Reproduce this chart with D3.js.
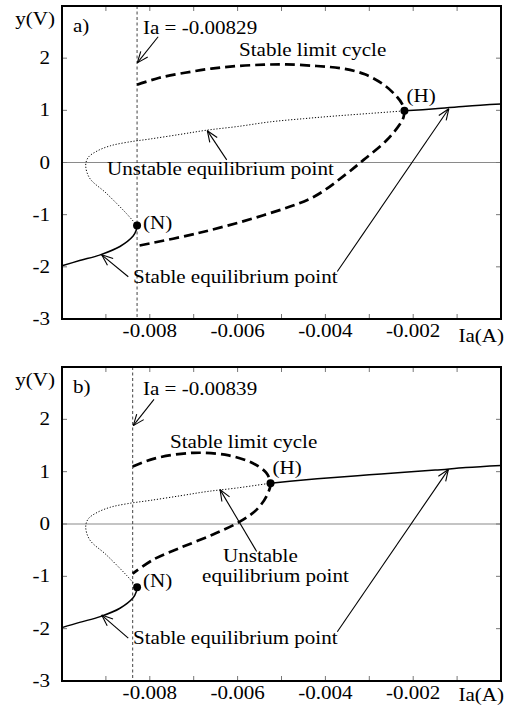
<!DOCTYPE html>
<html>
<head>
<meta charset="utf-8">
<script src="https://cdn.jsdelivr.net/npm/d3@7"></script>
<style>
  body { margin: 0; background: #fff; }
  text { font-family: "Liberation Serif", "Times New Roman", serif; font-size: 18px; fill: #000; }
</style>
</head>
<body>
<div id="chart"></div>
<script>
// equilibrium curve, lower stable branch (up to the fold N)
var eqLowerIa = [-0.0100, -0.0096, -0.00913, -0.00868, -0.00838, -0.00831, -0.00829];
var eqLowerY = [-1.98, -1.88, -1.77, -1.61, -1.41, -1.30, -1.21];

// equilibrium curve from N, round the turn, up to Ia = 0
var eqUpperIa = [-0.00829, -0.00853, -0.00899, -0.00937, -0.00946, -0.0094, -0.0092, -0.0089, -0.0085,
    -0.0080, -0.0073, -0.0067, -0.0060, -0.00525, -0.0045, -0.0038, -0.0030, -0.0022, -0.0015, -0.0008, 0];
var eqUpperY = [-1.21, -0.98, -0.59, -0.30, -0.05, 0.10, 0.22, 0.32, 0.39,
    0.45, 0.54, 0.62, 0.69, 0.78, 0.84, 0.89, 0.94, 0.99, 1.03, 1.08, 1.12];

// Hopf point for each panel (must be one of eqUpperIa)
var hopfIa = [-0.0022, -0.00525];
var iaValues = [-0.00829, -0.00839];
var iaTexts = ["Ia = -0.00829", "Ia = -0.00839"];
var panelLabels = ["a)", "b)"];

// stable limit cycle, panel a (upper branch then lower branch back)
var cycleAIa = [-0.00829, -0.0078, -0.0072, -0.0066, -0.0060, -0.0054, -0.0049, -0.0042, -0.0036, -0.0031,
    -0.00267, -0.00237, -0.00225, -0.0022,
    -0.00222, -0.00229, -0.0026, -0.00313, -0.00351, -0.00427, -0.00541, -0.00693, -0.00829];
var cycleAY = [1.49, 1.62, 1.72, 1.80, 1.85, 1.875, 1.88, 1.85, 1.80, 1.69,
    1.49, 1.26, 1.12, 0.99,
    0.87, 0.75, 0.43, 0.05, -0.21, -0.66, -1.01, -1.36, -1.60];

// stable limit cycle, panel b
var cycleBIa = [-0.00839, -0.0079, -0.0070, -0.0062, -0.00565, -0.00535, -0.00525,
    -0.00533, -0.00556, -0.00594, -0.00656, -0.00732, -0.00792, -0.00839];
var cycleBY = [1.10, 1.25, 1.36, 1.31, 1.16, 0.98, 0.78,
    0.55, 0.28, 0.05, -0.20, -0.46, -0.68, -0.95];

var xTickLabels = [-0.008, -0.006, -0.004, -0.002];
var xTicks = [-0.009, -0.008, -0.007, -0.006, -0.005, -0.004, -0.003, -0.002, -0.001];
var yTicks = [-2, -1, 0, 1, 2];
var yTickLabels = [-3, -2, -1, 0, 1, 2];

// annotations in data units: [text, Ia, y]
var notesA = [
    ["Stable limit cycle", -0.005968, 2.04],
    ["Unstable equilibrium point", -0.008975, -0.24],
    ["Stable equilibrium point", -0.008383, -2.31]
];
var notesB = [
    ["Stable limit cycle", -0.00754, 1.46],
    ["Unstable", -0.006333, -0.717],
    ["equilibrium point", -0.00681, -1.10],
    ["Stable equilibrium point", -0.008383, -2.29]
];
// arrows: [fromIa, fromY, toIa, toY]
var arrowsA = [
    [-0.00781, 2.41, -0.008285, 1.91],
    [-0.006248, 0.05, -0.00669, 0.61],
    [-0.00849, -2.19, -0.009096, -1.77],
    [-0.003729, -2.09, -0.001189, 1.03]
];
var arrowsB = [
    [-0.007904, 2.38, -0.008376, 1.88],
    [-0.005565, -0.525, -0.0064, 0.657],
    [-0.00849, -2.18, -0.009096, -1.74],
    [-0.003729, -2.06, -0.0012, 1.04]
];

var svgWidth = 513;
var svgHeight = 706;
var sx = 1.17; // horizontal stretch of the lettering

var svg = d3.select("#chart")
    .append("svg")
    .attr("width", svgWidth)
    .attr("height", svgHeight);

var xScale = d3.scaleLinear().domain([-0.010, 0]).range([62, 501]);

function addText(g, x, y, str, anchor) {
    return g.append("text")
        .attr("transform", `translate(${x},${y}) scale(${sx},1)`)
        .attr("text-anchor", anchor || "start")
        .text(str);
}

function drawArrow(g, x1, y1, x2, y2) {
    g.append("line")
        .attr("x1", x1).attr("y1", y1).attr("x2", x2).attr("y2", y2)
        .attr("stroke", "#000").attr("stroke-width", 1.1);
    var ang = Math.atan2(y1 - y2, x1 - x2);
    var len = 12, spread = 0.38;
    [ang - spread, ang + spread].forEach(function(a) {
        g.append("line")
            .attr("x1", x2).attr("y1", y2)
            .attr("x2", x2 + len * Math.cos(a)).attr("y2", y2 + len * Math.sin(a))
            .attr("stroke", "#000").attr("stroke-width", 1.1);
    });
}

function drawPanel(p) {
    var top = p.top, bottom = p.bottom;
    var yScale = d3.scaleLinear().domain([-3, 3]).range([bottom, top]);
    var left = xScale.range()[0], right = xScale.range()[1];
    var g = svg.append("g");

    var line = d3.line()
        .x(d => xScale(d[0]))
        .y(d => yScale(d[1]))
        .curve(d3.curveCatmullRom.alpha(0.5));

    // zero line
    g.append("line")
        .attr("x1", left).attr("x2", right)
        .attr("y1", yScale(0)).attr("y2", yScale(0))
        .attr("stroke", "#8a8a8a").attr("stroke-width", 1.2);

    // ticks (inside, on all four sides)
    xTicks.forEach(function(t) {
        g.append("line").attr("x1", xScale(t)).attr("x2", xScale(t))
            .attr("y1", top).attr("y2", top + 5).attr("stroke", "#777");
        g.append("line").attr("x1", xScale(t)).attr("x2", xScale(t))
            .attr("y1", bottom).attr("y2", bottom - 5).attr("stroke", "#777");
    });
    yTicks.forEach(function(t) {
        g.append("line").attr("x1", left).attr("x2", left + 5)
            .attr("y1", yScale(t)).attr("y2", yScale(t)).attr("stroke", "#777");
        g.append("line").attr("x1", right).attr("x2", right - 5)
            .attr("y1", yScale(t)).attr("y2", yScale(t)).attr("stroke", "#777");
    });

    // tick labels
    xTickLabels.forEach(function(t) {
        addText(g, xScale(t), bottom + 18, d3.format(".3f")(t).replace("−", "-"), "middle");
    });
    yTickLabels.forEach(function(t) {
        addText(g, 50, yScale(t) + 6, String(t), "end");
    });
    addText(g, 55, top + 19, "y(V)", "end");
    addText(g, 504, Math.min(bottom + 23, 701), "Ia(A)", "end");

    // vertical Ia line
    g.append("line")
        .attr("x1", xScale(p.ia)).attr("x2", xScale(p.ia))
        .attr("y1", top).attr("y2", bottom)
        .attr("stroke", "#444").attr("stroke-width", 1)
        .attr("stroke-dasharray", "3,2.5");

    // equilibrium curve
    var lower = eqLowerIa.map((v, i) => [v, eqLowerY[i]]);
    var upper = eqUpperIa.map((v, i) => [v, eqUpperY[i]]);
    var hi = eqUpperIa.indexOf(p.hopf);
    var unstable = upper.slice(0, hi + 1);
    var stableUp = upper.slice(hi);

    g.append("path").attr("d", line(lower))
        .attr("fill", "none").attr("stroke", "#000").attr("stroke-width", 1.5);
    g.append("path").attr("d", line(stableUp))
        .attr("fill", "none").attr("stroke", "#000").attr("stroke-width", 1.5);
    g.append("path").attr("d", line(unstable))
        .attr("fill", "none").attr("stroke", "#000").attr("stroke-width", 1)
        .attr("stroke-dasharray", "1.2,1.8");

    // limit cycle
    var cycle = p.cycleIa.map((v, i) => [v, p.cycleY[i]]);
    g.append("path").attr("d", line(cycle))
        .attr("fill", "none").attr("stroke", "#000").attr("stroke-width", 2.7)
        .attr("stroke-dasharray", "10,5");

    // fold (N) and Hopf (H) points
    var nPt = upper[0];
    var hPt = upper[hi];
    g.append("circle").attr("cx", xScale(nPt[0])).attr("cy", yScale(nPt[1])).attr("r", 4);
    g.append("circle").attr("cx", xScale(hPt[0])).attr("cy", yScale(hPt[1])).attr("r", 4);
    addText(g, xScale(nPt[0]) + 6, yScale(nPt[1]) + p.nDy, "(N)");
    addText(g, xScale(hPt[0]) + 2, yScale(hPt[1]) - 9, "(H)");

    // annotations
    p.notes.forEach(function(n) {
        addText(g, xScale(n[1]), yScale(n[2]), n[0]);
    });
    p.arrows.forEach(function(a) {
        drawArrow(g, xScale(a[0]), yScale(a[1]), xScale(a[2]), yScale(a[3]));
    });
    addText(g, 143, top + 28, p.iaText);
    addText(g, 73, top + 26, p.label);

    // frame
    g.append("rect")
        .attr("x", left).attr("y", top)
        .attr("width", right - left).attr("height", bottom - top)
        .attr("fill", "none").attr("stroke", "#000").attr("stroke-width", 2);
}

drawPanel({ top: 6, bottom: 319, ia: iaValues[0], iaText: iaTexts[0], label: panelLabels[0],
    hopf: hopfIa[0], cycleIa: cycleAIa, cycleY: cycleAY, notes: notesA, arrows: arrowsA, nDy: 3 });
drawPanel({ top: 367, bottom: 681, ia: iaValues[1], iaText: iaTexts[1], label: panelLabels[1],
    hopf: hopfIa[1], cycleIa: cycleBIa, cycleY: cycleBY, notes: notesB, arrows: arrowsB, nDy: 0 });
</script>
</body>
</html>
